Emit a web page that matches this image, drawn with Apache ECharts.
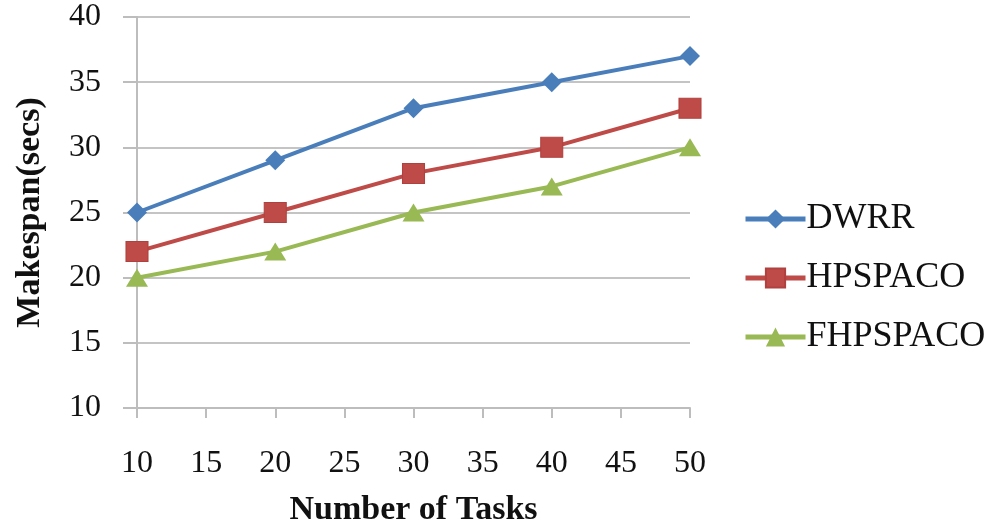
<!DOCTYPE html>
<html>
<head>
<meta charset="utf-8">
<script src="https://cdn.jsdelivr.net/npm/echarts@6/dist/echarts.min.js"></script>
<style>
  html, body { margin: 0; padding: 0; background: #fff; }
  #main { width: 1000px; height: 527px; }
</style>
</head>
<body>
<div id="main"></div>
<script>
var tasks = [10, 20, 30, 40, 50];
var dwrr = [25, 29, 33, 35, 37];
var hpspaco = [22, 25, 28, 30, 33];
var fhpspaco = [20, 22, 25, 27, 30];
var seriesNames = ['DWRR', 'HPSPACO', 'FHPSPACO'];

function pairs(vals) {
    return tasks.map(function (t, i) { return [t, vals[i]]; });
}

var serif = '"Liberation Serif", "DejaVu Serif", serif';
var myChart = echarts.init(document.getElementById('main'));

var option = {
    backgroundColor: '#fff',
    animation: false,
    color: ['#4A7EBB', '#BE4B48', '#98B954'],
    grid: {
        left: 137,
        right: 310,
        top: 17,
        bottom: 119,
        outerBoundsMode: 'none',
        containLabel: false
    },
    legend: {
        orient: 'vertical',
        left: 738,
        top: 196,
        itemWidth: 60,
        itemHeight: 24,
        itemGap: 23,
        lineStyle: { width: 5 },
        textStyle: { fontFamily: serif, fontSize: 36, lineHeight: 36, color: '#111', padding: [0, 0, 0, -4] },
        data: seriesNames
    },
    xAxis: {
        type: 'value',
        min: 10,
        max: 50,
        interval: 5,
        name: 'Number of Tasks',
        nameLocation: 'middle',
        nameGap: 85,
        nameTextStyle: { fontFamily: serif, fontSize: 34, fontWeight: 'bold', color: '#111' },
        axisLine: { show: true, lineStyle: { color: '#bdbdbd', width: 2 } },
        axisTick: { show: true, inside: false, length: 10, lineStyle: { color: '#bdbdbd', width: 2 } },
        axisLabel: { margin: 40, fontFamily: serif, fontSize: 32, color: '#111' },
        splitLine: { show: false }
    },
    yAxis: {
        type: 'value',
        min: 10,
        max: 40,
        interval: 5,
        name: 'Makespan(secs)',
        nameLocation: 'middle',
        nameGap: 90,
        nameTextStyle: { fontFamily: serif, fontSize: 34, fontWeight: 'bold', color: '#111' },
        axisLine: { show: true, lineStyle: { color: '#bdbdbd', width: 2 } },
        axisTick: { show: true, inside: false, length: 14, lineStyle: { color: '#bdbdbd', width: 2 } },
        axisLabel: { margin: 36, fontFamily: serif, fontSize: 32, color: '#111' },
        splitLine: { show: true, lineStyle: { color: '#c4c4c4', width: 2 } }
    },
    series: [
        {
            name: seriesNames[0],
            type: 'line',
            data: pairs(dwrr),
            symbol: 'diamond',
            symbolSize: 20,
            lineStyle: { width: 4 }
        },
        {
            name: seriesNames[1],
            type: 'line',
            data: pairs(hpspaco),
            symbol: 'rect',
            symbolSize: [22, 20],
            itemStyle: { borderColor: '#B0413E', borderWidth: 1 },
            lineStyle: { width: 4 }
        },
        {
            name: seriesNames[2],
            type: 'line',
            data: pairs(fhpspaco),
            symbol: 'triangle',
            symbolSize: [22, 18],
            lineStyle: { width: 4 }
        }
    ]
};

myChart.setOption(option, true);
</script>
</body>
</html>
